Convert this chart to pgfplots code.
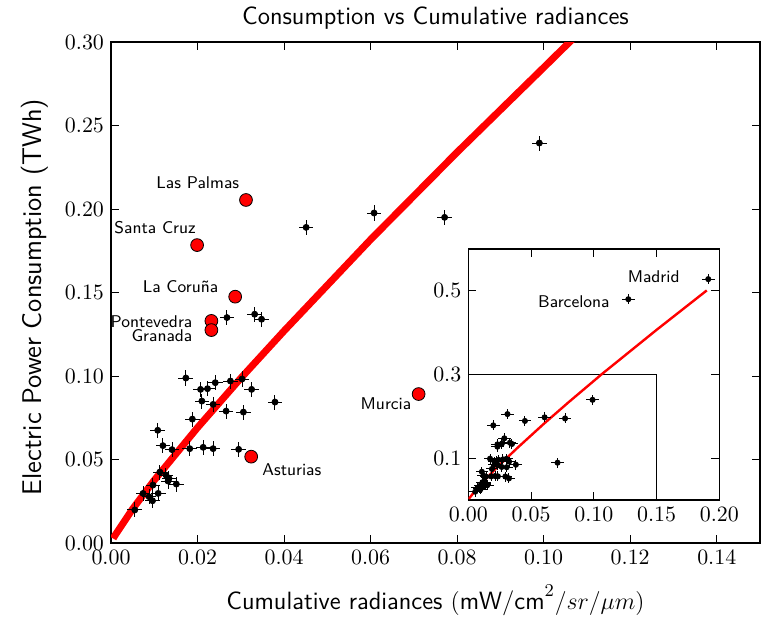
\documentclass[border=0pt]{standalone}
\usepackage{fontspec}
\usepackage{pgfplots}
\usepackage{pgfplotstable}
\pgfplotsset{compat=1.18}

% black points (with error crosses)
\pgfplotstableread{
x y
0.0990 0.2395
0.0608 0.1976
0.0771 0.1950
0.0451 0.1890
0.0268 0.1350
0.0332 0.1370
0.0348 0.1340
0.0173 0.0988
0.0207 0.0920
0.0223 0.0924
0.0241 0.0960
0.0276 0.0970
0.0303 0.0982
0.0325 0.0920
0.0210 0.0850
0.0236 0.0830
0.0266 0.0790
0.0306 0.0784
0.0379 0.0844
0.0188 0.0742
0.0108 0.0675
0.0120 0.0583
0.0141 0.0559
0.0182 0.0565
0.0213 0.0573
0.0236 0.0565
0.0295 0.0561
0.0113 0.0425
0.0127 0.0407
0.0134 0.0387
0.0132 0.0371
0.0151 0.0353
0.0097 0.0347
0.0074 0.0297
0.0088 0.0277
0.0096 0.0253
0.0109 0.0297
0.0055 0.0198
}\blackpts

% labelled cities
\pgfplotstableread{
x y
0.0312 0.2054
0.0199 0.1784
0.0287 0.1475
0.0232 0.1330
0.0232 0.1275
0.0711 0.0892
0.0324 0.0517
}\redpts

% Madrid, Barcelona
\pgfplotstableread{
x y
0.1912 0.528
0.1275 0.480
}\bigpts

% fitted curve
\pgfplotstableread{
x y
0.0005 0.0027
0.0010 0.0049
0.0050 0.0204
0.0100 0.0376
0.0200 0.0691
0.0300 0.0987
0.0400 0.1270
0.0600 0.1817
0.0800 0.2340
0.1000 0.2847
0.1060 0.3000
0.1500 0.4067
0.1900 0.5010
}\fitline

\pgfplotsset{
  every axis/.append style={
    scale only axis,
    axis line style={black, line width=0.6pt},
    tick align=inside,
    major tick length=4pt,
    tick style={black, line width=0.5pt},
    tick label style={font=\fontsize{10.5}{12}\selectfont},
  },
  pts/.style n args={3}{only marks, mark=*, mark size=#1, black,
    error bars/x dir=both, error bars/y dir=both,
    error bars/x fixed=#2, error bars/y fixed=#3,
    error bars/error mark=none,
    error bars/error bar style={line width=0.5pt, black}},
}

\begin{document}
\begin{tikzpicture}
\begin{axis}[
  name=main,
  at={(0,0)}, anchor=south west,
  width=324.5pt, height=250.5pt,
  xmin=0, xmax=0.15, ymin=0, ymax=0.30,
  xtick={0,0.02,...,0.14},
  ytick={0,0.05,...,0.30},
  xticklabel style={/pgf/number format/.cd, fixed, fixed zerofill, precision=2},
  yticklabel style={/pgf/number format/.cd, fixed, fixed zerofill, precision=2},
  scaled ticks=false,
  xlabel={Cumulative radiances $(\mbox{mW/cm}^2/sr/\mu m)$},
  xlabel style={font=\sffamily\fontsize{12.5}{14}\selectfont, at={(axis description cs:0.5,-0.114)}, anchor=center},
  ylabel={Electric Power Consumption (TWh)},
  ylabel style={font=\sffamily\fontsize{13.5}{15}\selectfont, at={(axis description cs:-0.117,0.491)}, anchor=center},
]
\addplot[red, line width=3.5pt] table {\fitline};
\addplot[pts={1.5pt}{0.0017}{0.0045}] table {\blackpts};
\addplot[only marks, mark=*, mark size=3.2pt, mark options={fill=red, draw=black, line width=0.4pt}] table {\redpts};
\begin{scope}[font=\sffamily\fontsize{8.5}{10}\selectfont, inner sep=0pt]
\node[anchor=east] at (axis cs:0.0297,0.2156) {Las Palmas};
\node[anchor=east] at (axis cs:0.0197,0.1886) {Santa Cruz};
\node[anchor=east] at (axis cs:0.0249,0.1533) {La Coruña};
\node[anchor=east] at (axis cs:0.0189,0.1326) {Pontevedra};
\node[anchor=east] at (axis cs:0.0189,0.1242) {Granada};
\node[anchor=east] at (axis cs:0.0695,0.0836) {Murcia};
\node[anchor=west] at (axis cs:0.0349,0.0437) {Asturias};
\end{scope}
\end{axis}
\node[font=\sffamily\fontsize{12.5}{14}\selectfont] at (162.25pt,262.5pt) {Consumption vs Cumulative radiances};

\begin{axis}[
  at={(178.65pt,21.5pt)}, anchor=south west,
  width=125.5pt, height=125.5pt,
  axis background/.style={fill=white},
  xmin=0, xmax=0.20, ymin=0, ymax=0.6,
  xtick={0,0.05,...,0.20},
  ytick={0.1,0.3,0.5},
  xticklabel style={/pgf/number format/.cd, fixed, fixed zerofill, precision=2},
  yticklabel style={/pgf/number format/.cd, fixed, fixed zerofill, precision=1},
  scaled ticks=false,
]
\addplot[black, line width=0.7pt] coordinates {(0,0.3) (0.15,0.3) (0.15,0)};
\addplot[red, line width=1.2pt] table {\fitline};
\addplot[pts={1.3pt}{0.005}{0.012}] table {\blackpts};
\addplot[pts={1.3pt}{0.005}{0.012}] table {\redpts};
\addplot[pts={1.3pt}{0.005}{0.012}] table {\bigpts};
\begin{scope}[font=\sffamily\fontsize{8.5}{10}\selectfont, inner sep=0pt]
\node[anchor=east] at (axis cs:0.1687,0.533) {Madrid};
\node[anchor=east] at (axis cs:0.1129,0.474) {Barcelona};
\end{scope}
\end{axis}

\pgfresetboundingbox
\path (-55.5pt,-36.5pt) rectangle (326pt,271.5pt);
\end{tikzpicture}
\end{document}
